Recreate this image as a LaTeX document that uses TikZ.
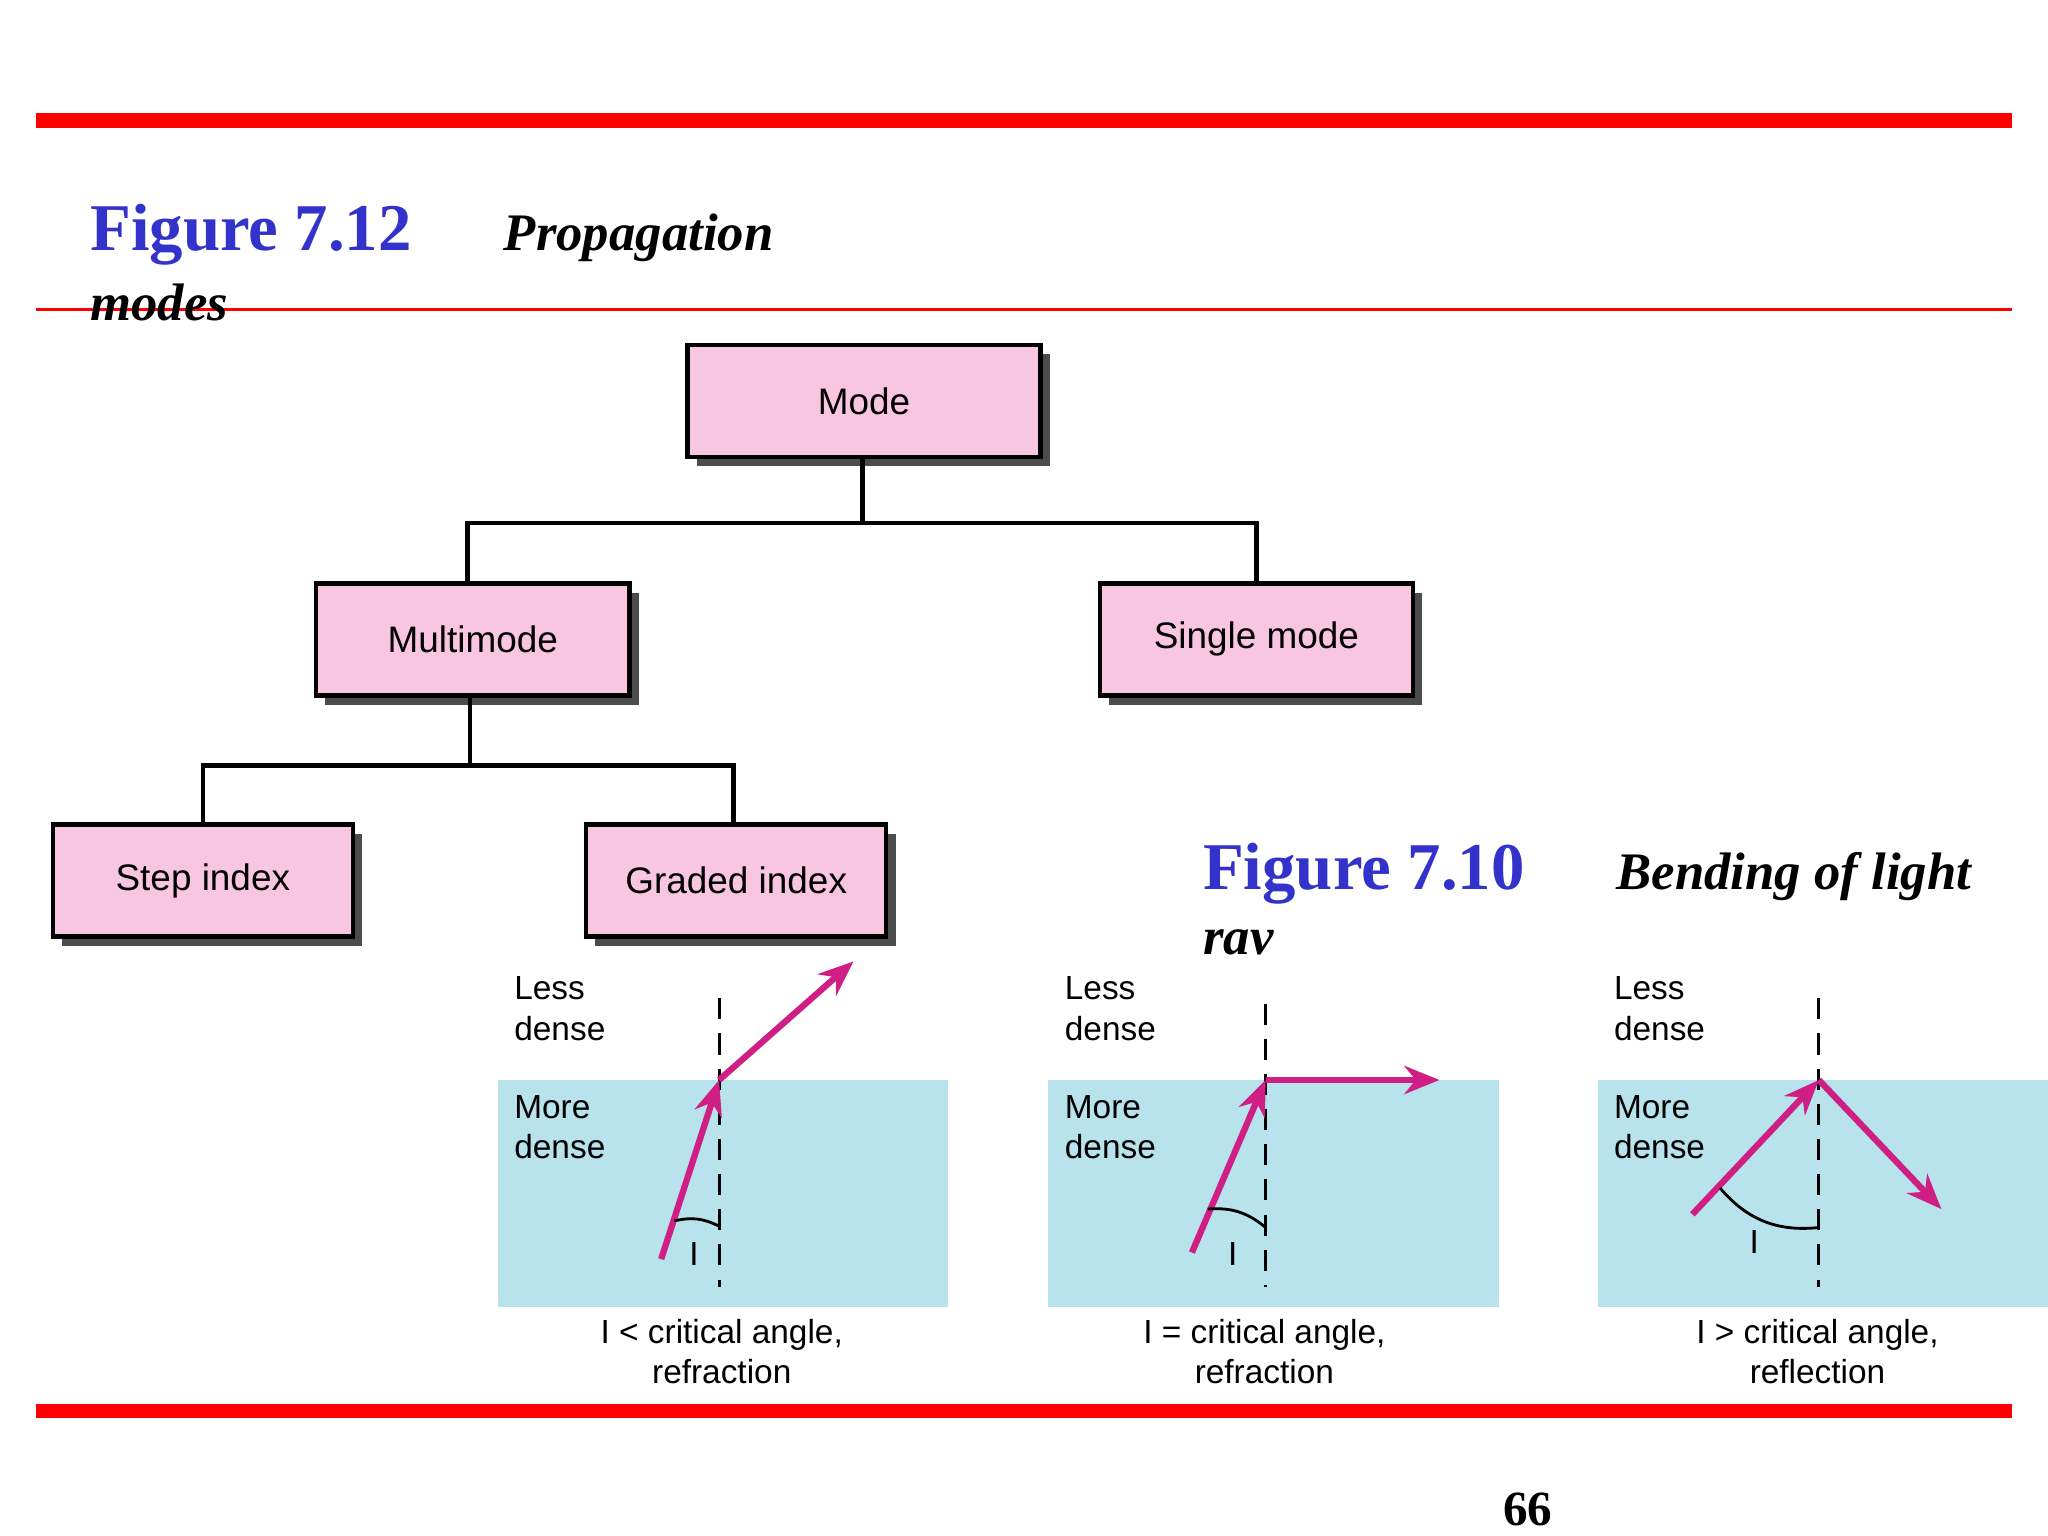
\documentclass[tikz,border=0pt]{standalone}
\usepackage{fontspec}
\setmainfont{Liberation Serif}
\setsansfont{Liberation Sans}
\usetikzlibrary{arrows.meta}
\definecolor{boxpink}{HTML}{F9C6E2}
\definecolor{figblue}{HTML}{3333CC}
\definecolor{water}{HTML}{B8E3EC}
\definecolor{ray}{HTML}{CF1F85}
\definecolor{redline}{HTML}{FF0000}
\begin{document}
\begin{tikzpicture}[x=0.01317cm,y=-0.01317cm,
  modebox/.style={draw=black,line width=1.2pt,fill=boxpink,minimum width=3.0cm,minimum height=1.12cm,font=\sffamily\fontsize{10.5}{12}\selectfont,inner sep=0pt},
  shadowbox/.style={fill=black!75},
  conn/.style={line width=1.3pt},
  rayline/.style={ray,line width=1.8pt,-{Stealth[length=10pt,width=8pt]}},
  vert/.style={dashed,line width=0.9pt,dash pattern=on 6pt off 4pt},
  ptext/.style={font=\sffamily\fontsize{9.5}{11.5}\selectfont,anchor=north west,align=left,inner sep=0pt},
  ctext/.style={font=\sffamily\fontsize{9.5}{11.5}\selectfont,align=center,inner sep=0pt},
  figt/.style={font=\bfseries\fontsize{19}{22}\selectfont,text=figblue,anchor=base west,inner sep=0pt},
  figs/.style={font=\bfseries\itshape\fontsize{15}{18}\selectfont,anchor=base west,inner sep=0pt}]
\useasboundingbox (0,0) rectangle (1555,1166);
\fill[white] (0,0) rectangle (1555,1166);
% red lines
\fill[redline] (27,86) rectangle (1528,97);
\fill[redline] (27,233.5) rectangle (1528,236.5);
\fill[redline] (27,1066) rectangle (1528,1077);
% titles
\node[figt] (f12) at (68,190) {Figure 7.12};
\node[figs] (p12) at (382,190) {Propagation};
\node[figs] (m12) at (68,243) {modes};
% boxes with shadows
\foreach \x/\y/\w in {522/262/268,240/443/238,835/443/238,40/626/228,445/626/228}{
  \fill[black!70] (\x+7,\y+7) rectangle (\x+\w+7,\y+92);
}
\node[modebox,minimum width=268*0.01317cm,minimum height=85*0.01317cm] (mode) at (656,304.5) {Mode};
\node[modebox,minimum width=238*0.01317cm,minimum height=85*0.01317cm] (multi) at (359,485.5) {Multimode};
\node[modebox,minimum width=238*0.01317cm,minimum height=85*0.01317cm] (single) at (954,485.5) {Single mode};
\node[modebox,minimum width=228*0.01317cm,minimum height=85*0.01317cm] (step) at (154,668.5) {Step index};
\node[modebox,minimum width=228*0.01317cm,minimum height=85*0.01317cm] (graded) at (559,668.5) {Graded index};
% connectors
\coordinate (j1) at (655,397);
\coordinate (j2) at (357,581);
\draw[conn] (655,347) -- (j1);
\draw[conn] (355,443) |- (j1) -| (954,443);
\draw[conn] (357,528) -- (j2);
\draw[conn] (154,626) |- (j2) -| (557,626);
% figure 7.10
\node[figt] (f10) at (913,675) {Figure 7.10};
\node[figs] (b10) at (1227,675) {Bending of light};
\node[figs] (r10) at (913,725) {rav};
% panels
\foreach \x/\n in {378/a,796/b,1213/c}{
  \fill[water] (\x,820) rectangle (\x+342,992);
  \node[ptext] (less\n) at (\x+12,741) {Less\\dense};
  \node[ptext] (more\n) at (\x+12,831) {More\\dense};
}
% panel 1
\coordinate (o1) at (546,820);
\draw[vert] (546,758) -- (546,977);
\draw[rayline] (502,956) -- (o1);
\draw[rayline] (o1) -- (648,730);
\draw[line width=0.8pt] (512,927) to[bend left=20] (546,931);
\node[ctext] (i1) at (527,952) {I};
\node[ctext] (c1) at (548,1026) {I < critical angle,\\refraction};
% panel 2
\coordinate (o2) at (961,820);
\draw[vert] (961,762) -- (961,977);
\draw[rayline] (905,951) -- (o2);
\draw[rayline] (o2) -- (1093,820);
\draw[line width=0.8pt] (917,918) to[bend left=22] (961,932);
\node[ctext] (i2) at (936,952) {I};
\node[ctext] (c2) at (960,1026) {I = critical angle,\\refraction};
% panel 3
\coordinate (o3) at (1381,820);
\draw[vert] (1381,758) -- (1381,977);
\draw[rayline] (1285,922) -- (o3);
\draw[rayline] (o3) -- (1474,918);
\draw[line width=0.8pt] (1306,902) to[bend right=28] (1381,932);
\node[ctext] (i3) at (1332,943) {I};
\node[ctext] (c3) at (1380,1026) {I > critical angle,\\reflection};
% page number
\node[font=\bfseries\fontsize{14}{16}\selectfont,inner sep=0pt] (pg) at (1160,1146) {66};
\end{tikzpicture}
\end{document}
